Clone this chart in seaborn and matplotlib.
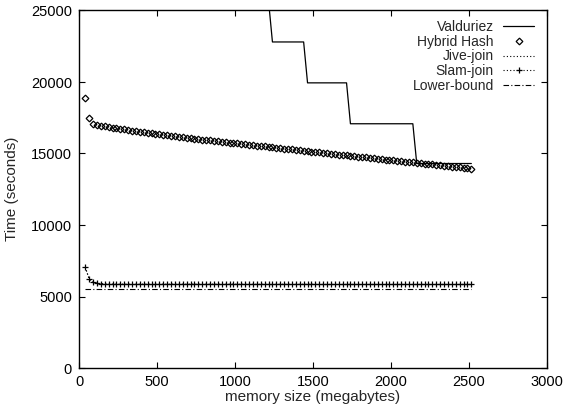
import matplotlib
matplotlib.use("Agg")
import matplotlib.pyplot as plt
import seaborn as sns
import pandas as pd

# memory sizes (MB) at which each join algorithm was evaluated
memory_mb = [
    40, 65, 90, 115, 140, 165, 190, 215, 240, 265,
    290, 315, 340, 365, 390, 415, 440, 465, 490, 515,
    540, 565, 590, 615, 640, 665, 690, 715, 740, 765,
    790, 815, 840, 865, 890, 915, 940, 965, 990, 1015,
    1040, 1065, 1090, 1115, 1140, 1165, 1190, 1215, 1240, 1265,
    1290, 1315, 1340, 1365, 1390, 1415, 1440, 1465, 1490, 1515,
    1540, 1565, 1590, 1615, 1640, 1665, 1690, 1715, 1740, 1765,
    1790, 1815, 1840, 1865, 1890, 1915, 1940, 1965, 1990, 2015,
    2040, 2065, 2090, 2115, 2140, 2165, 2190, 2215, 2240, 2265,
    2290, 2315, 2340, 2365, 2390, 2415, 2440, 2465, 2490, 2515,
]

hybrid_hash = [
    18910, 17490, 17040, 16990, 16940, 16890, 16850, 16800, 16760, 16720,
    16680, 16640, 16600, 16560, 16520, 16480, 16450, 16410, 16370, 16340,
    16300, 16270, 16240, 16200, 16170, 16140, 16100, 16070, 16040, 16010,
    15970, 15940, 15910, 15880, 15850, 15820, 15790, 15760, 15730, 15700,
    15670, 15640, 15610, 15580, 15550, 15520, 15490, 15460, 15430, 15400,
    15370, 15340, 15310, 15280, 15250, 15220, 15190, 15160, 15130, 15100,
    15080, 15050, 15020, 14990, 14960, 14930, 14900, 14870, 14840, 14810,
    14790, 14760, 14730, 14700, 14670, 14640, 14610, 14580, 14550, 14525,
    14500, 14470, 14440, 14410, 14380, 14350, 14320, 14300, 14270, 14240,
    14210, 14180, 14150, 14120, 14090, 14070, 14040, 14010, 13980, 13950,
]

slam_join = [
    7050, 6230, 5990, 5920, 5890, 5870, 5860, 5855, 5850, 5850,
    5850, 5850, 5850, 5850, 5850, 5850, 5850, 5850, 5850, 5850,
    5850, 5850, 5850, 5850, 5850, 5850, 5850, 5850, 5850, 5850,
    5850, 5850, 5850, 5850, 5850, 5850, 5850, 5850, 5850, 5850,
    5845, 5845, 5845, 5845, 5845, 5845, 5845, 5845, 5845, 5845,
    5845, 5845, 5845, 5845, 5845, 5845, 5845, 5845, 5845, 5845,
    5840, 5840, 5840, 5840, 5840, 5840, 5840, 5840, 5840, 5840,
    5840, 5840, 5840, 5840, 5840, 5840, 5840, 5840, 5840, 5840,
    5840, 5840, 5840, 5840, 5840, 5840, 5840, 5840, 5840, 5840,
    5840, 5840, 5840, 5840, 5840, 5840, 5840, 5840, 5840, 5840,
]

jive_join = slam_join

lower_bound = [
    5550, 5550, 5550, 5550, 5550, 5550, 5550, 5550, 5550, 5550,
    5550, 5550, 5550, 5550, 5550, 5550, 5550, 5550, 5550, 5550,
    5550, 5550, 5550, 5550, 5550, 5550, 5550, 5550, 5550, 5550,
    5550, 5550, 5550, 5550, 5550, 5550, 5550, 5550, 5550, 5550,
    5550, 5550, 5550, 5550, 5550, 5550, 5550, 5550, 5550, 5550,
    5550, 5550, 5550, 5550, 5550, 5550, 5550, 5550, 5550, 5550,
    5550, 5550, 5550, 5550, 5550, 5550, 5550, 5550, 5550, 5550,
    5550, 5550, 5550, 5550, 5550, 5550, 5550, 5550, 5550, 5550,
    5550, 5550, 5550, 5550, 5550, 5550, 5550, 5550, 5550, 5550,
    5550, 5550, 5550, 5550, 5550, 5550, 5550, 5550, 5550, 5550,
]

# Valduriez is only measured from 1215 MB upward (earlier values are off-scale)
valduriez_mb = [
    1215, 1240, 1265, 1290, 1315, 1340, 1365, 1390, 1415, 1440,
    1465, 1490, 1515, 1540, 1565, 1590, 1615, 1640, 1665, 1690, 1715,
    1740, 1765, 1790, 1815, 1840, 1865, 1890, 1915, 1940, 1965, 1990,
    2015, 2040, 2065, 2090, 2115, 2140,
    2165, 2190, 2215, 2240, 2265, 2290, 2315, 2340, 2365, 2390, 2415,
    2440, 2465, 2490, 2515,
]
valduriez = [
    25660, 22800, 22800, 22800, 22800, 22800, 22800, 22800, 22800, 22800,
    19940, 19940, 19940, 19940, 19940, 19940, 19940, 19940, 19940, 19940, 19940,
    17080, 17080, 17080, 17080, 17080, 17080, 17080, 17080, 17080, 17080, 17080,
    17080, 17080, 17080, 17080, 17080, 17080,
    14300, 14300, 14300, 14300, 14300, 14300, 14300, 14300, 14300, 14300, 14300,
    14300, 14300, 14300, 14300,
]

x_ticks = [0, 500, 1000, 1500, 2000, 2500, 3000]
y_ticks = [0, 5000, 10000, 15000, 20000, 25000]

sns.set_style("ticks")
plt.rcParams["font.family"] = ["Liberation Sans", "DejaVu Sans"]
plt.rcParams["font.size"] = 10

fig = plt.figure(figsize=(5.65, 4.11), dpi=100)
ax = fig.add_axes([79 / 565, 1 - 368 / 411, 468 / 565, 357.5 / 411])

val_df = pd.DataFrame({"mem": valduriez_mb, "time": valduriez})
df = pd.DataFrame({
    "mem": memory_mb,
    "hybrid": hybrid_hash,
    "jive": jive_join,
    "slam": slam_join,
    "lower": lower_bound,
})

sns.lineplot(data=val_df, x="mem", y="time", ax=ax, color="black",
             linewidth=0.9, estimator=None, sort=False, label="Valduriez")
sns.lineplot(data=df, x="mem", y="hybrid", ax=ax, color="black",
             linestyle="", marker="D", markersize=3.4, mfc="none",
             mec="black", markeredgewidth=0.9, estimator=None, sort=False,
             label="Hybrid Hash")
sns.lineplot(data=df, x="mem", y="jive", ax=ax, color="black",
             linewidth=0.8, linestyle=(0, (1, 2)), estimator=None, sort=False,
             label="Jive-join")
sns.lineplot(data=df, x="mem", y="slam", ax=ax, color="black",
             linewidth=0.8, linestyle=(0, (1, 2)), marker="+", markersize=4.8,
             mec="black", markeredgewidth=0.9, estimator=None, sort=False,
             label="Slam-join")
sns.lineplot(data=df, x="mem", y="lower", ax=ax, color="black",
             linewidth=0.8, linestyle=(0, (5, 2, 1, 2)), estimator=None,
             sort=False, label="Lower-bound")

ax.set_xlim(0, 3000)
ax.set_ylim(0, 25000)
ax.set_xticks(x_ticks)
ax.set_yticks(y_ticks)
ax.tick_params(direction="in", length=4, width=0.8, top=True, right=True,
               labelsize=10.5, pad=5, colors="black")
for side in ax.spines.values():
    side.set_linewidth(1.0)
    side.set_color("black")
    side.set_visible(True)

ax.set_xlabel("memory size (megabytes)", fontsize=11, labelpad=1)
ax.set_ylabel("Time (seconds)", fontsize=11)
ax.yaxis.set_label_coords(-0.128, 0.5)

leg = ax.legend(loc="upper right", bbox_to_anchor=(534 / 565, 1 - 20 / 411),
                bbox_transform=fig.transFigure, frameon=False,
                markerfirst=False, fontsize=10, borderpad=0,
                borderaxespad=0, handlelength=2.2, handletextpad=0.7,
                labelspacing=0.05)

fig.savefig("out.png", dpi=100)
